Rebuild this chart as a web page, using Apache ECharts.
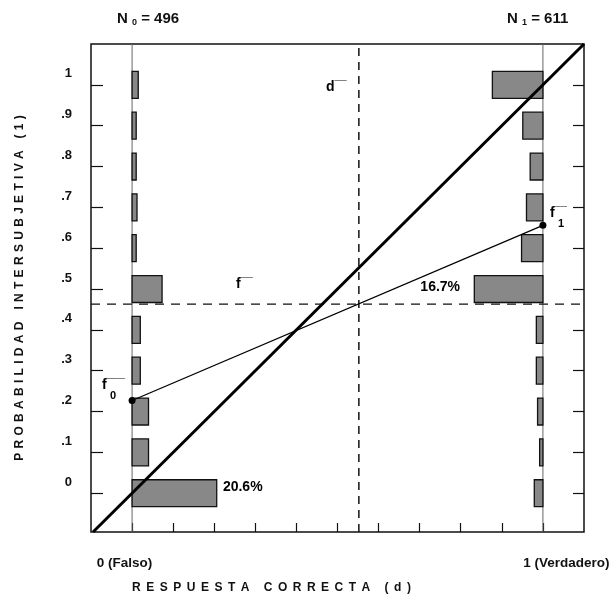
<!DOCTYPE html>
<html>
<head>
<meta charset="utf-8">
<script src="https://cdn.jsdelivr.net/npm/echarts@6/dist/echarts.min.js"></script>
<style>html,body{margin:0;padding:0;background:#fff}#c{width:612px;height:601px}</style>
</head>
<body>
<div id="c"></div>
<script>
// ---------------- data ----------------
const probLevels = [0, 0.1, 0.2, 0.3, 0.4, 0.5, 0.6, 0.7, 0.8, 0.9, 1];
const yTickLabels = ['0', '.1', '.2', '.3', '.4', '.5', '.6', '.7', '.8', '.9', '1'];
const falsePct = [20.6, 4.0, 4.0, 2.0, 2.0, 7.3, 1.0, 1.2, 1.0, 1.0, 1.5];   // d = 0 group (%)
const truePct  = [2.1, 0.8, 1.3, 1.6, 1.6, 16.7, 5.2, 4.0, 3.1, 4.9, 12.3];  // d = 1 group (%)
const xTickValues = [0, 0.1, 0.2, 0.3, 0.4, 0.5, 0.6, 0.7, 0.8, 0.9, 1];
const xLabelValues = [0, 1];
const xLabelTexts = ['0 (Falso)', '1 (Verdadero)'];
const groupSizes = [496, 611];
const fMeans = [0.227, 0.656];       // f0, f1
const dMean = 0.552;
const fMean = 0.463;
const diagonalPts = [[-0.095, -0.095], [1.1, 1.1]];
const pctTexts = ['20.6%', '16.7%'];
const xName = 'RESPUESTA CORRECTA (d)';
const yName = 'PROBABILIDAD INTERSUBJETIVA (1)';

// ---------------- letter spacing for the spaced axis titles ----------------
const SPACING = {};
SPACING[xName] = 5.5;
SPACING[yName] = 4.3;
const origFillText = CanvasRenderingContext2D.prototype.fillText;
CanvasRenderingContext2D.prototype.fillText = function (t, x, y, mw) {
  const ls = SPACING[t];
  if (ls) {
    const align = this.textAlign;
    const chars = Array.from(t);
    const widths = chars.map(c => this.measureText(c).width);
    const total = widths.reduce((a, b) => a + b, 0) + ls * (chars.length - 1);
    let cx = (align === 'center') ? x - total / 2 : (align === 'right' || align === 'end') ? x - total : x;
    this.textAlign = 'left';
    for (let i = 0; i < chars.length; i++) {
      origFillText.call(this, chars[i], cx, y);
      cx += widths[i] + ls;
    }
    this.textAlign = align;
    return;
  }
  return mw === undefined ? origFillText.call(this, t, x, y) : origFillText.call(this, t, x, y, mw);
};

// ---------------- chart ----------------
const FONT = '"Liberation Sans", Arial, Helvetica, sans-serif';
const INK = '#111';
const X_MIN = -0.1, X_MAX = 1.1, Y_MIN = -0.095, Y_MAX = 1.1;
const BAR_HALF = 0.033;

function barSeries(pcts, side) {
  return {
    type: 'custom',
    z: 3,
    silent: true,
    data: probLevels.map((p, i) => [p, pcts[i] / 100]),
    encode: { x: 1, y: 0 },
    renderItem(params, api) {
      const y = api.value(0), len = api.value(1);
      const xa = side === 0 ? 0 : 1;
      const xb = side === 0 ? len : 1 - len;
      const a = api.coord([xa, y + BAR_HALF]);
      const b = api.coord([xb, y - BAR_HALF]);
      return {
        type: 'rect',
        shape: {
          x: Math.min(a[0], b[0]), y: Math.min(a[1], b[1]),
          width: Math.abs(b[0] - a[0]), height: Math.abs(b[1] - a[1])
        },
        style: { fill: '#888888', stroke: '#111', lineWidth: 1.3 }
      };
    }
  };
}

function lineSeries(points, style, z) {
  return {
    type: 'line', data: points, symbol: 'none', silent: true, z: z || 4,
    lineStyle: style, animation: false
  };
}

function textMark(x, y, formatter, align, rich, extra) {
  return {
    type: 'scatter', silent: true, z: 10,
    symbolSize: 1, itemStyle: { color: '#fff', opacity: 0 },
    data: [[x, y]],
    label: Object.assign({
      show: true, position: 'inside', align: align, verticalAlign: 'middle',
      formatter: formatter, rich: rich || {}, color: '#000', fontFamily: FONT, fontSize: 14,
      textBorderWidth: 0, opacity: 1
    }, extra || {})
  };
}

const fRich = {
  f: { fontSize: 14, fontWeight: 'bold', lineHeight: 13, color: '#000', fontFamily: FONT },
  o: { fontSize: 11, lineHeight: 13, color: '#000', fontFamily: FONT, verticalAlign: 'top' },
  s: { fontSize: 11, fontWeight: 'bold', lineHeight: 9, color: '#000', fontFamily: FONT, padding: [0, 0, 0, 8] }
};

const chart = echarts.init(document.getElementById('c'), null, { renderer: 'canvas', devicePixelRatio: 1 });

const option = {
  animation: false,
  backgroundColor: '#fff',
  textStyle: { fontFamily: FONT, color: INK },
  grid: {
    left: 91, right: 28, top: 44, bottom: 69,
    show: true, borderColor: INK, borderWidth: 1.5,
    containLabel: false, outerBoundsMode: 'none'
  },
  xAxis: [{
    type: 'value', min: X_MIN, max: X_MAX, position: 'bottom',
    axisLine: { show: false, onZero: false }, splitLine: { show: false },
    axisTick: { show: true, inside: true, length: 9, customValues: xTickValues, lineStyle: { color: INK, width: 1.2 } },
    axisLabel: {
      show: true, customValues: xLabelValues, margin: 24, fontSize: 13.5, fontWeight: 'bold', color: INK, fontFamily: FONT,
      formatter: v => (Math.round(v) === 0 ? '{a|' + xLabelTexts[0] + '}' : '{b|' + xLabelTexts[1] + '}'),
      rich: {
        a: { fontSize: 13.5, fontWeight: 'bold', color: INK, fontFamily: FONT, padding: [0, 15, 0, 0] },
        b: { fontSize: 13.5, fontWeight: 'bold', color: INK, fontFamily: FONT, padding: [0, 0, 0, 47] }
      }
    },
    name: xName, nameLocation: 'middle', nameGap: 50,
    nameTextStyle: { fontSize: 12, fontWeight: 'bold', color: INK, fontFamily: FONT, padding: [0, 132, 0, 0] }
  }],
  yAxis: [{
    type: 'value', min: Y_MIN, max: Y_MAX, position: 'left',
    axisLine: { show: false, onZero: false }, splitLine: { show: false },
    axisTick: { show: true, inside: true, length: 12, customValues: probLevels, lineStyle: { color: INK, width: 1.2 } },
    axisLabel: {
      show: true, customValues: probLevels, margin: 19, fontSize: 13, fontWeight: 'bold', color: INK, fontFamily: FONT,
      verticalAlign: 'bottom', lineHeight: 22,
      formatter: v => yTickLabels[Math.round(v * 10)]
    },
    name: yName, nameLocation: 'middle', nameGap: 65,
    nameTextStyle: { fontSize: 12, fontWeight: 'bold', color: INK, fontFamily: FONT }
  }, {
    type: 'value', min: Y_MIN, max: Y_MAX, position: 'right',
    axisLine: { show: false, onZero: false }, splitLine: { show: false },
    axisTick: { show: true, inside: true, length: 11, customValues: probLevels, lineStyle: { color: INK, width: 1.2 } },
    axisLabel: { show: false }
  }],
  graphic: [
    {
      type: 'text', left: 117, top: 11, silent: true,
      style: {
        text: '{n|N }{s|0}{n| = ' + groupSizes[0] + '}',
        rich: {
          n: { fontSize: 15, fontWeight: 'bold', lineHeight: 18, fill: INK, fontFamily: FONT },
          s: { fontSize: 9, fontWeight: 'bold', lineHeight: 9, verticalAlign: 'bottom', fill: INK, fontFamily: FONT }
        }
      }
    },
    {
      type: 'text', left: 507, top: 11, silent: true,
      style: {
        text: '{n|N }{s|1}{n| = ' + groupSizes[1] + '}',
        rich: {
          n: { fontSize: 15, fontWeight: 'bold', lineHeight: 18, fill: INK, fontFamily: FONT },
          s: { fontSize: 9, fontWeight: 'bold', lineHeight: 9, verticalAlign: 'bottom', fill: INK, fontFamily: FONT }
        }
      }
    }
  ],
  series: [
    // thin reference lines at d = 0 and d = 1
    lineSeries([[xLabelValues[0], Y_MIN], [xLabelValues[0], Y_MAX]], { color: '#666', width: 1 }, 2),
    lineSeries([[xLabelValues[1], Y_MIN], [xLabelValues[1], Y_MAX]], { color: '#666', width: 1 }, 2),
    barSeries(falsePct, 0),
    barSeries(truePct, 1),
    // mean lines
    lineSeries([[dMean, Y_MIN], [dMean, Y_MAX]], { color: INK, width: 1.5, type: [8, 6] }, 4),
    lineSeries([[X_MIN, fMean], [X_MAX, fMean]], { color: INK, width: 1.3, type: [9, 7] }, 4),
    // diagonal
    lineSeries(diagonalPts, { color: '#000', width: 3 }, 6),
    // f0 - f1 line
    {
      type: 'line', z: 7, silent: true,
      data: [[0, fMeans[0]], [1, fMeans[1]]],
      symbol: 'circle', symbolSize: 7, showSymbol: true,
      itemStyle: { color: '#000' },
      lineStyle: { color: '#000', width: 1.3 }
    },
    // annotations
    textMark(0.221, 0.014, pctTexts[0], 'left', null, { fontWeight: 'bold' }),
    textMark(0.75, 0.505, pctTexts[1], 'center', null, { fontWeight: 'bold' }),
    textMark(0.472, 0.994, '{f|d}{o|¯¯}', 'left', fRich),
    textMark(0.253, 0.512, '{f|f}{o|¯¯}', 'left', fRich),
    textMark(-0.073, 0.253, '{f|f}{o|¯¯¯}\n{s|0}', 'left', fRich),
    textMark(1.017, 0.675, '{f|f}{o|¯¯}\n{s|1}', 'left', fRich)
  ]
};

chart.setOption(option);
</script>
</body>
</html>
